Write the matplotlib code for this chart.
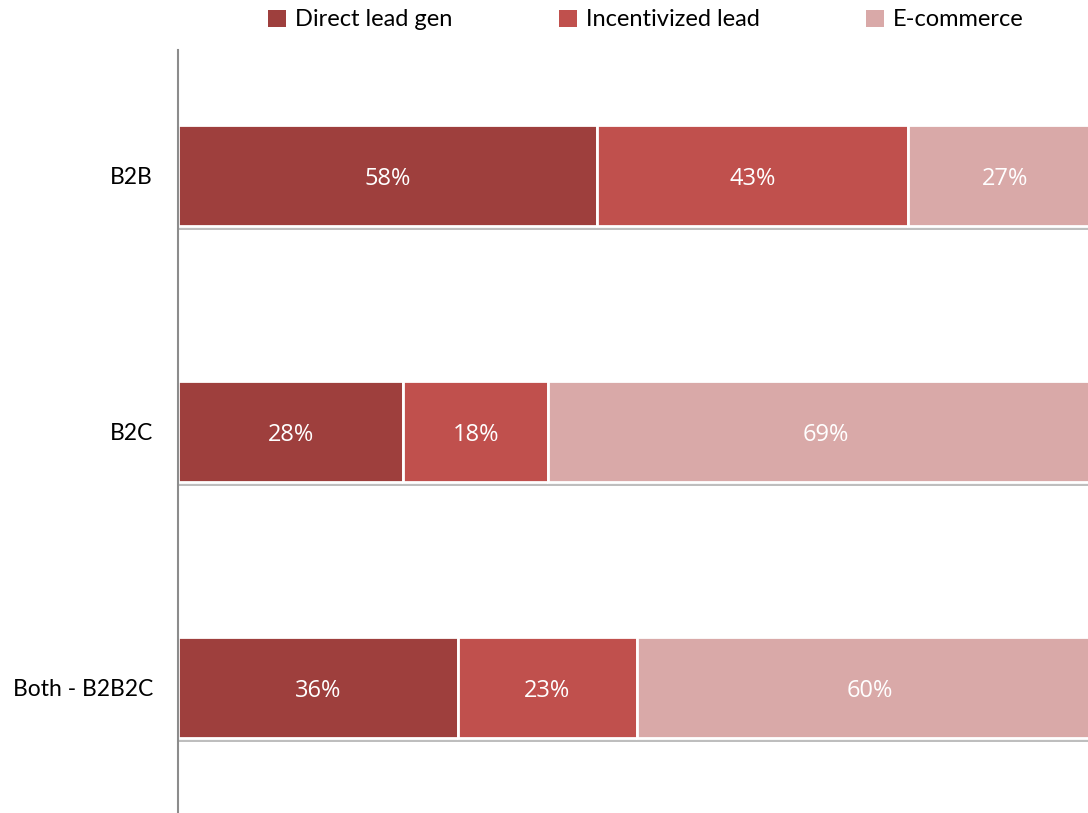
import matplotlib
matplotlib.use("Agg")
import matplotlib.pyplot as plt
import matplotlib.patheffects as pe
from matplotlib.patches import Patch
import numpy as np

categories = ["B2B", "B2C", "Both - B2B2C"]
series_names = ["Direct lead gen", "Incentivized lead", "E-commerce"]
direct_lead = [58, 28, 36]
incentivized = [43, 18, 23]
ecommerce = [27, 69, 60]
colors = ["#9E3F3D", "#C0504D", "#D9A9A8"]

plt.rcParams['font.family'] = ['Lato', 'DejaVu Sans']

fig = plt.figure(figsize=(10.88, 8.13), dpi=100)
ax = fig.add_axes([178/1088, 0.0, (1103-178)/1088, (813-50)/813])

data = np.array([direct_lead, incentivized, ecommerce], dtype=float)
totals = data.sum(axis=0)
shares = data / totals * 100
y = np.arange(len(categories))
left = np.zeros(len(categories))
shadow = [pe.SimplePatchShadow(offset=(0, -3), shadow_rgbFace="#7f7f7f", alpha=0.5), pe.Normal()]
for i, name in enumerate(series_names):
    bars = ax.barh(y, shares[i], left=left, height=0.394, color=colors[i],
                   edgecolor="white", linewidth=2, zorder=2)
    for b in bars:
        b.set_path_effects(shadow)
    for j in range(len(categories)):
        ax.text(left[j] + shares[i][j] / 2, y[j] + 0.015, f"{int(data[i][j])}%",
                ha="center", va="center", color="white", fontsize=17,
                family=['Open Sans', 'DejaVu Sans'], zorder=3)
    left += shares[i]

ax.set_xlim(0, 100)
ax.set_ylim(2.49, -0.49)
ax.set_yticks(y)
ax.set_yticklabels(categories, fontsize=16.5)
ax.tick_params(axis="y", length=0, pad=18)
ax.set_xticks([])
for s in ["top", "right", "bottom"]:
    ax.spines[s].set_visible(False)
ax.spines["left"].set_color("#8c8c8c")
ax.spines["left"].set_linewidth(1.5)

handles = [Patch(facecolor=c, edgecolor="none") for c in colors]
fig.legend(handles, series_names, loc="center", bbox_to_anchor=(646/1088, 1 - 20/813),
           ncol=3, frameon=False, fontsize=17, handlelength=0.75, handleheight=0.75,
           handletextpad=0.4, columnspacing=4.5)

fig.savefig("out.png", dpi=100)
